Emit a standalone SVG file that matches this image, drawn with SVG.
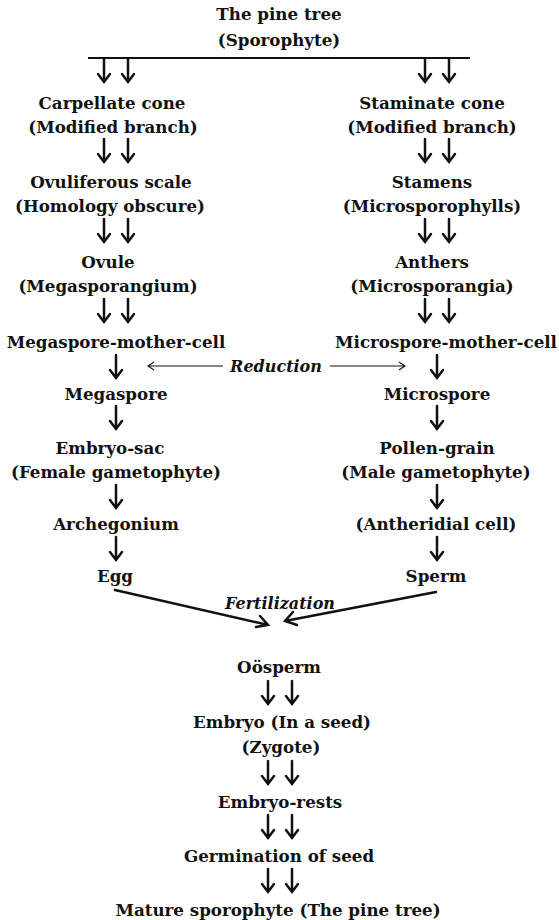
<svg xmlns="http://www.w3.org/2000/svg" xmlns:xlink="http://www.w3.org/1999/xlink" width="559" height="920" viewBox="0 0 559 920">
<style>
text{font-family:"DejaVu Serif","Liberation Serif",serif;font-size:16.7px;font-weight:bold;fill:#111;text-anchor:middle}
text.it{font-style:italic;font-size:16px}
.ar{fill:none;stroke:#111;stroke-width:2.5;stroke-linecap:round;stroke-linejoin:miter}
.thin{fill:none;stroke:#111;stroke-width:1.1}
</style>
<defs>
<path id="da" class="ar" d="M0,0 V23 M-6,15 L0,23 L6,15"/>
<g id="dd"><use xlink:href="#da" x="0"/><use xlink:href="#da" x="24"/></g>
</defs>
<rect width="559" height="920" fill="#fff"/>
<g id="connectors">
<line x1="88" y1="58" x2="470" y2="58" stroke="#111" stroke-width="2.2"/>
<use xlink:href="#dd" x="104" y="59"/>
<use xlink:href="#dd" x="425" y="59"/>
<use xlink:href="#dd" x="104" y="139"/>
<use xlink:href="#dd" x="425" y="139"/>
<use xlink:href="#dd" x="104" y="219"/>
<use xlink:href="#dd" x="425" y="219"/>
<use xlink:href="#dd" x="104" y="299"/>
<use xlink:href="#dd" x="425" y="299"/>
<use xlink:href="#da" x="116" y="355"/>
<use xlink:href="#da" x="437" y="355"/>
<use xlink:href="#da" x="116" y="406"/>
<use xlink:href="#da" x="437" y="406"/>
<use xlink:href="#da" x="116" y="485"/>
<use xlink:href="#da" x="437" y="485"/>
<use xlink:href="#da" x="116" y="537"/>
<use xlink:href="#da" x="437" y="537"/>
<path class="thin" d="M148,366 H223 M154,362 L148,366 L154,370"/>
<path class="thin" d="M330,366 H405 M399,362 L405,366 L399,370"/>
<path class="ar" d="M115,590 L268,625 M256,627 L268,625 L260,616"/>
<path class="ar" d="M436,592 L285,621 M293,612 L285,621 L297,625"/>
<use xlink:href="#dd" x="268" y="681"/>
<use xlink:href="#dd" x="268" y="761"/>
<use xlink:href="#dd" x="268" y="815"/>
<use xlink:href="#dd" x="268" y="869"/>
</g>
<g id="n-pine"><text x="279" y="20">The pine tree</text><text x="279" y="46">(Sporophyte)</text></g>
<g id="n-carpellate"><text x="112" y="109">Carpellate cone</text><text x="113" y="133">(Modified branch)</text></g>
<g id="n-staminate"><text x="432" y="109">Staminate cone</text><text x="432" y="133">(Modified branch)</text></g>
<g id="n-ovuliferous"><text x="111" y="188">Ovuliferous scale</text><text x="110" y="212">(Homology obscure)</text></g>
<g id="n-stamens"><text x="432" y="188">Stamens</text><text x="432" y="212">(Microsporophylls)</text></g>
<g id="n-ovule"><text x="108" y="268">Ovule</text><text x="108" y="292">(Megasporangium)</text></g>
<g id="n-anthers"><text x="432" y="268">Anthers</text><text x="432" y="292">(Microsporangia)</text></g>
<g id="n-mmc"><text x="116" y="348">Megaspore-mother-cell</text></g>
<g id="n-micmc"><text x="446" y="348">Microspore-mother-cell</text></g>
<g id="n-reduction"><text class="it" x="276" y="372">Reduction</text></g>
<g id="n-megaspore"><text x="116" y="400">Megaspore</text></g>
<g id="n-microspore"><text x="437" y="400">Microspore</text></g>
<g id="n-embryosac"><text x="110" y="454">Embryo-sac</text><text x="116" y="478">(Female gametophyte)</text></g>
<g id="n-pollen"><text x="437" y="454">Pollen-grain</text><text x="436" y="478">(Male gametophyte)</text></g>
<g id="n-archegonium"><text x="116" y="530">Archegonium</text></g>
<g id="n-antheridial"><text x="436" y="530">(Antheridial cell)</text></g>
<g id="n-egg"><text x="115" y="582">Egg</text></g>
<g id="n-sperm"><text x="436" y="582">Sperm</text></g>
<g id="n-fert"><text class="it" x="280" y="609">Fertilization</text></g>
<g id="n-oosperm"><text x="279" y="673">Oösperm</text></g>
<g id="n-embryo"><text x="282" y="728">Embryo (In a seed)</text><text x="281" y="753">(Zygote)</text></g>
<g id="n-rests"><text x="280" y="808">Embryo-rests</text></g>
<g id="n-germ"><text x="279" y="862">Germination of seed</text></g>
<g id="n-mature"><text x="278" y="916">Mature sporophyte (The pine tree)</text></g>
</svg>
